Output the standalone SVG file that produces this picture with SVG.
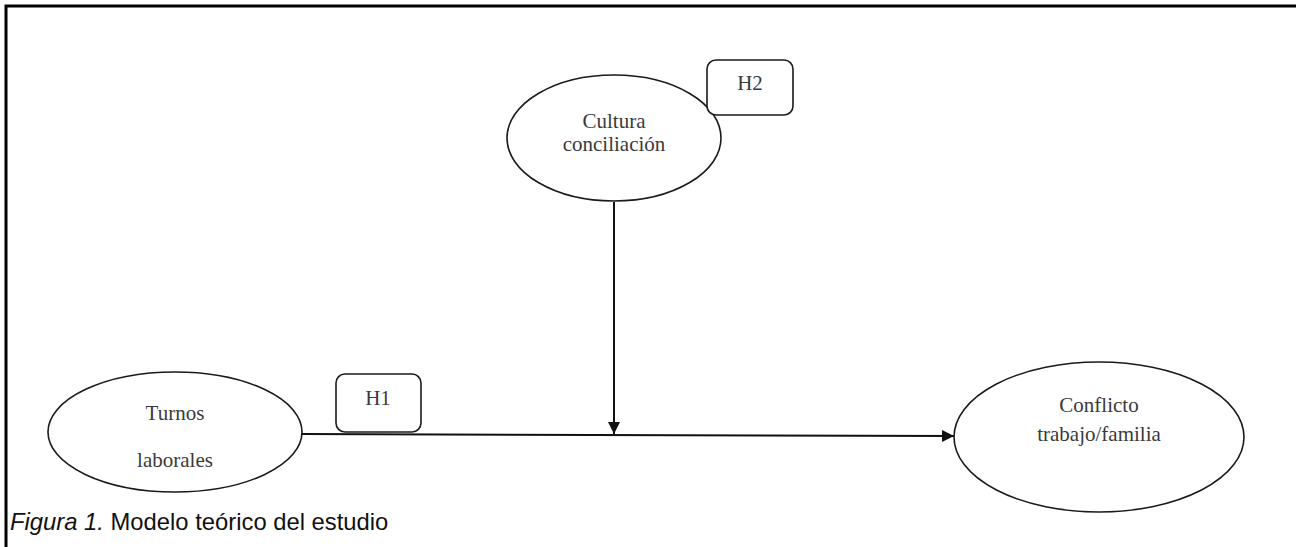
<svg xmlns="http://www.w3.org/2000/svg" width="1296" height="547" viewBox="0 0 1296 547">
<defs>
<style>
.node{fill:#fff;stroke:#1a1a1a;stroke-width:1.6}
.lbl{font-family:"Liberation Serif","Times New Roman",serif;font-size:21px;fill:#3a3a3a;text-anchor:middle}
.edge{stroke:#111;stroke-width:2;fill:none}
.frame{stroke:#000;stroke-width:3;fill:none}
.cap{font-family:"Liberation Sans",Arial,sans-serif;font-size:23.8px;fill:#111}
</style>
<marker id="arr" viewBox="0 0 10 10" refX="10" refY="5" markerWidth="6" markerHeight="6" orient="auto" markerUnits="strokeWidth">
<path d="M0,0 L10,5 L0,10 z" fill="#111"/>
</marker>
</defs>
<rect width="1296" height="547" fill="#fff"/>
<path class="frame" d="M6,547 L6,6 L1296,6"/>
<g id="connectors">
<line class="edge" x1="302" y1="434" x2="954" y2="436" marker-end="url(#arr)"/>
<line class="edge" x1="614" y1="202" x2="614" y2="434" marker-end="url(#arr)"/>
</g>
<g id="cultura">
<ellipse class="node" cx="614" cy="138" rx="107" ry="63"/>
<text class="lbl" x="614" y="128">Cultura</text>
<text class="lbl" x="614" y="151">conciliación</text>
</g>
<g id="h2">
<rect class="node" x="707" y="60" width="86" height="55" rx="9"/>
<text class="lbl" x="750" y="90">H2</text>
</g>
<g id="turnos">
<ellipse class="node" cx="175" cy="432" rx="127" ry="60"/>
<text class="lbl" x="175" y="420">Turnos</text>
<text class="lbl" x="175" y="467">laborales</text>
</g>
<g id="h1">
<rect class="node" x="336" y="374" width="85" height="58" rx="9"/>
<text class="lbl" x="378" y="405">H1</text>
</g>
<g id="conflicto">
<ellipse class="node" cx="1099" cy="437" rx="145" ry="75"/>
<text class="lbl" x="1099" y="412">Conflicto</text>
<text class="lbl" x="1099" y="441">trabajo/familia</text>
</g>
<text class="cap" x="10" y="530"><tspan font-style="italic">Figura 1.</tspan> Modelo teórico del estudio</text>
</svg>
